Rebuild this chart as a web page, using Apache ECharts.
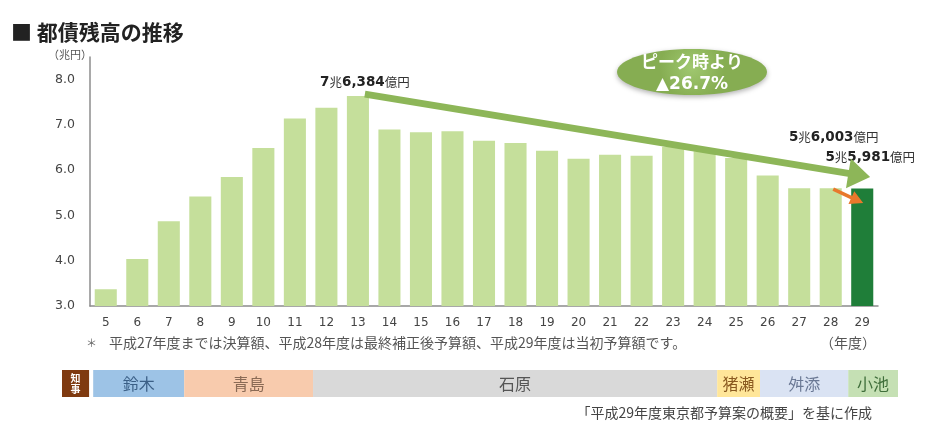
<!DOCTYPE html>
<html><head><meta charset="utf-8">
<script src="https://cdn.jsdelivr.net/npm/echarts@6/dist/echarts.min.js"></script>
<style>html,body{margin:0;padding:0;background:#fff}#c{width:934px;height:432px}</style>
</head><body><div id="c"></div>
<script>
// ---- data ----
const years = ['5','6','7','8','9','10','11','12','13','14','15','16','17','18','19','20','21','22','23','24','25','26','27','28','29'];
const debt = [3.37,4.04,4.87,5.42,5.85,6.49,7.14,7.38,7.6384,6.90,6.84,6.86,6.65,6.60,6.43,6.25,6.34,6.32,6.52,6.42,6.27,5.88,5.60,5.6003,5.5981];
const yTicks = [3,4,5,6,7,8];
const valueLabels = {8:['7','6,384'], 23:['5','6,003'], 24:['5','5,981']};
const governors = ['知事','鈴木','青島','石原','猪瀬','舛添','小池'];
const govStart  = [3.6, 4.59, 7.48, 11.57, 24.40, 25.76, 28.56];
const govEnd    = [4.46, 7.48, 11.57, 24.40, 25.76, 28.56, 30.14];
const trendFrom = [[13.22, 7.68],[28.08, 5.58]];
const trendTo   = [[29.25, 5.85],[29.03, 5.275]];
const peakText = ['ピーク時より','▲26.7%'];

// ---- styles ----
const govColors = ['#7f3a10','#9dc3e6','#f8cbad','#d9d9d9','#ffe699','#dae3f3','#c5e0b4'];
const govText   = ['#ffffff','#3b5f86','#8a6a55','#555555','#8a5a20','#6a7894','#3f6e3a'];
const FONT = "'Noto Sans CJK JP', sans-serif";
const NUMF = "'DejaVu Sans', 'Noto Sans CJK JP', sans-serif";

const chart = echarts.init(document.getElementById('c'), null, {renderer:'canvas'});

function arrowPoly(p1, p2, w, hl, hw){
  const dx=p2[0]-p1[0], dy=p2[1]-p1[1], len=Math.hypot(dx,dy);
  const ux=dx/len, uy=dy/len, nx=-uy, ny=ux;
  const bx=p2[0]-ux*hl, by=p2[1]-uy*hl;
  return [[p1[0]+nx*w/2,p1[1]+ny*w/2],[bx+nx*w/2,by+ny*w/2],[bx+nx*hw/2,by+ny*hw/2],[p2[0],p2[1]],
          [bx-nx*hw/2,by-ny*hw/2],[bx-nx*w/2,by-ny*w/2],[p1[0]-nx*w/2,p1[1]-ny*w/2]];
}

const barData = debt.map((v,i)=>{
  const o = {value:v};
  if(i===debt.length-1) o.itemStyle = {color:'#1f7e39'};
  if(valueLabels[i]){
    const off = i===8?[7,-2]:(i===23?[3,-39]:[8,-19]);
    o.label = {show:true, position:'top', offset:off,
      formatter:'{b|'+valueLabels[i][0]+'}{s|兆}{b|'+valueLabels[i][1]+'}{s|億円}',
      rich:{b:{fontFamily:NUMF,fontWeight:'bold',fontSize:13.5,color:'#222'},
            s:{fontFamily:FONT,fontSize:12.5,color:'#333'}}};
  }
  return o;
});

const option = {
  animation:false,
  title:{text:'■ 都債残高の推移', left:6, top:17,
    textStyle:{fontFamily:FONT,fontSize:21,fontWeight:'bold',color:'#222'}},
  grid:[{left:90,right:56,top:57,bottom:126},{left:62,right:36,top:370,height:27}],
  xAxis:[
    {type:'category',data:years,gridIndex:0,
     axisLine:{lineStyle:{color:'#8c8c8c',width:1.5}},axisTick:{show:false},
     axisLabel:{color:'#444',fontFamily:NUMF,fontSize:12,margin:11}},
    {type:'value',gridIndex:0,min:4.5,max:29.5,show:false},
    {type:'value',gridIndex:1,min:3.6,max:30.14,show:false}
  ],
  yAxis:[
    {type:'value',gridIndex:0,min:yTicks[0],max:8.5,interval:1,
     axisLine:{show:true,lineStyle:{color:'#8c8c8c',width:1.5}},axisTick:{show:false},
     splitLine:{show:false},
     axisLabel:{showMaxLabel:false,color:'#444',fontFamily:NUMF,fontSize:12.5,margin:15,
       formatter:v=>v.toFixed(1)}},
    {type:'value',gridIndex:1,min:0,max:1,show:false}
  ],
  series:[
    {type:'bar',data:barData,barWidth:'70%',itemStyle:{color:'#c5df9b'},z:2},
    {type:'custom',xAxisIndex:1,yAxisIndex:0,z:5,
     data:trendFrom.map((p,i)=>[p[0],p[1],trendTo[i][0],trendTo[i][1]]),
     renderItem:(params,api)=>{
       const i=params.dataIndex;
       const p1=api.coord([api.value(0),api.value(1)]);
       const p2=api.coord([api.value(2),api.value(3)]);
       const big=i===0;
       return {type:'polygon',shape:{points:arrowPoly(p1,p2,big?7:3.5,big?22:13,big?30:14)},
         style:{fill:big?'#8db658':'#e8782c'}};
     }},
    {type:'custom',xAxisIndex:2,yAxisIndex:1,z:3,
     data:governors.map((g,i)=>[govStart[i],govEnd[i],i]),
     renderItem:(params,api)=>{
       const i=params.dataIndex;
       const a=api.coord([api.value(0),1]), b=api.coord([api.value(1),0]);
       const w=b[0]-a[0], h=b[1]-a[1];
       const vertical=i===0;
       return {type:'group',children:[
         {type:'rect',shape:{x:a[0],y:a[1],width:w,height:h},style:{fill:govColors[i]}},
         {type:'text',style:{text:vertical?'知\n事':governors[i],x:a[0]+w/2,y:a[1]+h/2,
           align:'center',verticalAlign:'middle',fill:govText[i],
           font:(vertical?'bold 10px ':'16px ')+FONT,lineHeight:vertical?11:18}}
       ]};
     }}
  ],
  graphic:[
    {type:'text',left:48,top:49,style:{text:'（兆円）',font:'11px '+FONT,fill:'#555'}},
    {type:'ellipse',shape:{cx:692,cy:72,rx:75,ry:23},z:10,
     style:{fill:{type:'radial',x:0.5,y:0.4,r:0.7,colorStops:[{offset:0,color:'#a0c870'},{offset:1,color:'#86ad52'}]},
       shadowBlur:5,shadowColor:'rgba(0,0,0,0.3)',shadowOffsetY:2}},
    {type:'text',z:11,style:{text:peakText[0],x:692,y:62,align:'center',verticalAlign:'middle',
      font:'bold 17px '+FONT,fill:'#fff'}},
    {type:'text',z:11,style:{text:peakText[1],x:692,y:85,align:'center',verticalAlign:'middle',
      font:'bold 17px '+NUMF,fill:'#fff'}},
    {type:'text',style:{text:'＊',x:86,y:343,verticalAlign:'middle',font:'11px '+FONT,fill:'#666'}},
    {type:'text',style:{text:'平成27年度までは決算額、平成28年度は最終補正後予算額、平成29年度は当初予算額です。',
      x:109,y:343,verticalAlign:'middle',font:'14px '+FONT,fill:'#555'}},
    {type:'text',style:{text:'（年度）',x:876,y:343,align:'right',verticalAlign:'middle',font:'14px '+FONT,fill:'#555'}},
    {type:'text',style:{text:'「平成29年度東京都予算案の概要」を基に作成',x:872,y:413,align:'right',
      verticalAlign:'middle',font:'14px '+FONT,fill:'#444'}}
  ]
};
chart.setOption(option);
</script></body></html>
